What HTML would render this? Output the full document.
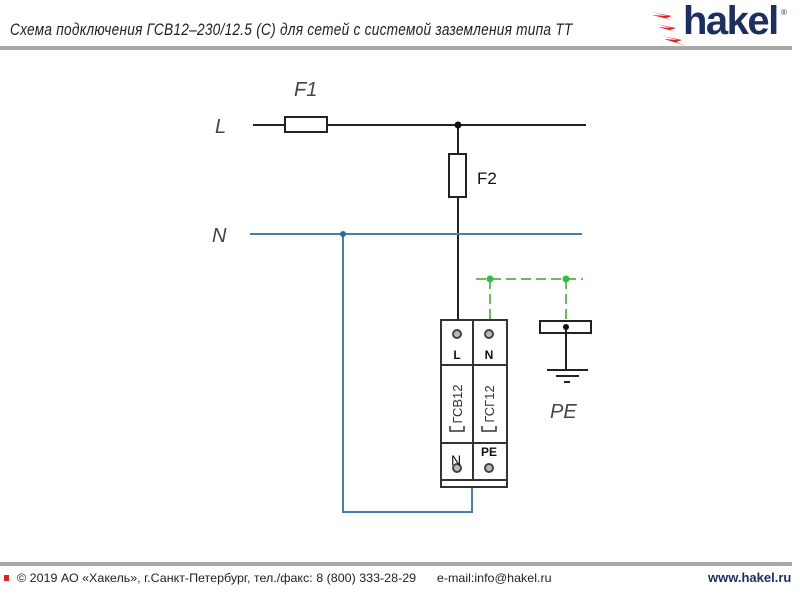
<!DOCTYPE html>
<html><head><meta charset="utf-8"><style>
body{margin:0;background:#fff;width:800px;height:600px;overflow:hidden;position:relative;font-family:"Liberation Sans",sans-serif}
.t{position:absolute}
</style></head><body>
<div class="t" style="left:10px;top:20px;font-size:17px;font-style:italic;color:#222;transform:scaleX(0.805);transform-origin:0 0;white-space:nowrap;letter-spacing:0.3px">Схема подключения ГСВ12–230/12.5 (С) для сетей с системой заземления типа ТТ</div>
<div class="t" style="left:0;top:46px;width:792px;height:4px;background:#a8a8a8"></div>
<div class="t" style="left:0;top:562px;width:792px;height:4px;background:#a8a8a8"></div>
<div class="t" style="left:4px;top:575px;width:5px;height:6px;background:#e0201b"></div>
<div class="t" style="left:17px;top:571px;font-size:12px;color:#222;white-space:nowrap;transform:scaleX(1.04);transform-origin:0 0">© 2019 АО «Хакель», г.Санкт-Петербург, тел./факс: 8 (800) 333-28-29 &nbsp;&nbsp;&nbsp;&nbsp; e-mail:info@hakel.ru</div>
<div class="t" style="left:708px;top:570px;font-size:13px;font-weight:bold;color:#1d2f5e">www.hakel.ru</div>
<div class="t" style="left:683px;top:-1px;font-size:40px;font-weight:bold;color:#1d2f5e;letter-spacing:-1.5px">hakel</div>
<div class="t" style="left:781px;top:8px;font-size:8px;color:#1d2f5e">®</div>
<svg class="t" style="left:0;top:0" width="800" height="600">
<g fill="#e0201b">
<polygon points="650,12 672,16 666,18 678,22 672,20 652,15 668,16"/>
<polygon points="656,24 676,28 670,30 682,34 676,32 658,27 672,28"/>
<polygon points="662,36 682,40 676,42 686,46 680,44 664,39 678,40"/>
</g>
<g font-family="Liberation Sans" font-style="italic" fill="#444" font-size="20">
<text x="215" y="133">L</text>
<text x="212" y="242">N</text>
<text x="294" y="96">F1</text>
<text x="550" y="418">PE</text>
</g>
<text x="477" y="184" font-size="17" fill="#111">F2</text>
<g stroke="#222" stroke-width="2" fill="none">
<line x1="253" y1="125" x2="586" y2="125"/>
<rect x="285" y="117" width="42" height="15" fill="#fff"/>
<line x1="458" y1="125" x2="458" y2="320"/>
<rect x="449" y="154" width="17" height="43" fill="#fff"/>
</g>
<circle cx="458" cy="125" r="3.5" fill="#111"/>
<g stroke="#4a7fa5" stroke-width="2" fill="none">
<line x1="250" y1="234" x2="582" y2="234"/>
<polyline points="343,234 343,512 472,512 472,487"/>
</g>
<circle cx="343" cy="234" r="3" fill="#2a6aa5"/>
<g stroke="#6dbb5a" stroke-width="2" stroke-dasharray="10,5" fill="none">
<line x1="476" y1="279" x2="583" y2="279"/>
<line x1="490" y1="279" x2="490" y2="320"/>
<line x1="566" y1="279" x2="566" y2="321"/>
</g>
<circle cx="490" cy="279" r="3.5" fill="#2fbf45"/>
<circle cx="566" cy="279" r="3.5" fill="#2fbf45"/>
<g stroke="#222" stroke-width="2" fill="none">
<rect x="540" y="321" width="51" height="12" fill="#fff"/>
<line x1="566" y1="327" x2="566" y2="370"/>
<line x1="547" y1="370" x2="588" y2="370"/>
<line x1="556" y1="376" x2="579" y2="376"/>
<line x1="564" y1="382" x2="570" y2="382"/>
</g>
<circle cx="566" cy="327" r="3" fill="#111"/>
<g stroke="#333" stroke-width="2" fill="#fff">
<rect x="441" y="320" width="66" height="167"/>
<line x1="473" y1="320" x2="473" y2="480"/>
<line x1="441" y1="365" x2="507" y2="365"/>
<line x1="441" y1="443" x2="507" y2="443"/>
<line x1="441" y1="480" x2="507" y2="480"/>
</g>
<g fill="#bbb" stroke="#444" stroke-width="2">
<circle cx="457" cy="334" r="4"/><circle cx="489" cy="334" r="4"/>
<circle cx="457" cy="468" r="4"/><circle cx="489" cy="468" r="4"/>
</g>
<g font-size="12" font-weight="bold" fill="#111" text-anchor="middle">
<text x="457" y="359">L</text><text x="489" y="359">N</text>
<text x="456" y="465" font-size="14" font-weight="normal">N</text><text x="489" y="456">PE</text>
</g>
<g font-size="13" fill="#333" text-anchor="middle">
<text transform="translate(462,404) rotate(-90)">ГСВ12</text>
<text transform="translate(494,404) rotate(-90)">ГСГ12</text>
</g>
<g stroke="#333" stroke-width="1.5" fill="none">
<polyline points="450,426 450,431 464,431 464,426"/>
<polyline points="482,426 482,431 496,431 496,426"/>
</g>
</svg>
</body></html>
